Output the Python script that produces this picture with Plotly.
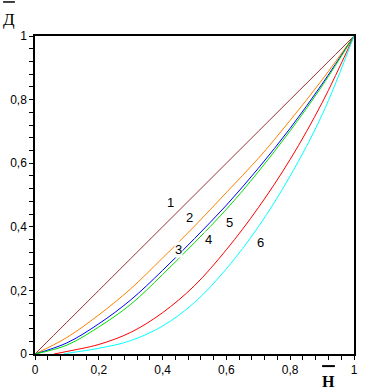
import plotly.graph_objects as go

x_grid = [0.0, 0.1, 0.2, 0.3, 0.4, 0.5, 0.6, 0.7, 0.8, 0.9, 1.0]
curve1 = [0.0, 0.1, 0.2, 0.3, 0.4, 0.5, 0.6, 0.7, 0.8, 0.9, 1.0]
curve2 = [0.0, 0.052, 0.123, 0.205, 0.302, 0.402, 0.508, 0.615, 0.735, 0.862, 1.0]
curve3 = [0.0, 0.035, 0.095, 0.17, 0.263, 0.363, 0.468, 0.584, 0.71, 0.849, 1.0]
curve4 = [0.0, 0.028, 0.085, 0.156, 0.25, 0.35, 0.455, 0.573, 0.702, 0.843, 1.0]
x5 = [0.06, 0.1, 0.2, 0.3, 0.4, 0.5, 0.6, 0.7, 0.8, 0.9, 1.0]
curve5 = [0.0, 0.008, 0.03, 0.068, 0.13, 0.215, 0.328, 0.46, 0.612, 0.79, 1.0]
x6 = [0.09, 0.1, 0.2, 0.3, 0.4, 0.5, 0.6, 0.7, 0.8, 0.9, 1.0]
curve6 = [0.0, 0.002, 0.018, 0.042, 0.088, 0.162, 0.268, 0.40, 0.56, 0.752, 1.0]

labels = ["1", "2", "3", "4", "5", "6"]
label_x = [0.425, 0.483, 0.451, 0.543, 0.609, 0.708]
label_y = [0.476, 0.430, 0.330, 0.361, 0.413, 0.352]

tick_vals = [0, 0.2, 0.4, 0.6, 0.8, 1]
tick_text = ["0", "0,2", "0,4", "0,6", "0,8", "1"]

colors = ["#993333", "#ff8000", "#0000ff", "#00e000", "#ff0000", "#00ffff"]

series = [(x_grid, curve1), (x_grid, curve2), (x_grid, curve3), (x_grid, curve4), (x5, curve5), (x6, curve6)]

fig = go.Figure()
for (xs, ys), c in zip(series, colors):
    fig.add_trace(go.Scatter(x=xs, y=ys, mode="lines", line=dict(color=c, width=1, shape="spline", smoothing=1.0),
                             showlegend=False, hoverinfo="skip"))

for t, lx, ly in zip(labels, label_x, label_y):
    fig.add_annotation(x=lx, y=ly, text=t, showarrow=False, xref="x", yref="y",
                       font=dict(family="Liberation Sans", size=13, color="black"),
                       bgcolor="white", borderpad=0)

axis_common = dict(range=[0, 1], tickvals=tick_vals, ticktext=tick_text, ticks="outside", ticklen=4,
                   tickwidth=1, tickcolor="black", showline=True, linecolor="black", linewidth=1.5,
                   mirror=True, showgrid=False, zeroline=False, automargin=False,
                   tickfont=dict(family="Liberation Sans", size=12, color="black"),
                   minor=dict(dtick=0.04, tick0=0, ticks="outside", ticklen=4, tickcolor="black", tickwidth=1, showgrid=False))

fig.update_layout(
    template="none",
    width=390, height=390,
    margin=dict(l=35, r=36, t=36, b=36),
    plot_bgcolor="white", paper_bgcolor="white",
    xaxis=axis_common, yaxis=axis_common,
)

fig.add_annotation(x=-0.083, y=1.053, xref="paper", yref="paper", text="Д", showarrow=False,
                   xanchor="center", yanchor="middle",
                   font=dict(family="Liberation Serif", size=17, color="black"))
fig.add_annotation(x=0.920, y=-0.085, xref="paper", yref="paper", text="<b>Н</b>", showarrow=False,
                   xanchor="center", yanchor="middle",
                   font=dict(family="Liberation Serif", size=16, color="black"))
fig.add_shape(type="line", xref="paper", yref="paper", x0=-0.100, x1=-0.063, y0=1.107, y1=1.107,
              line=dict(color="black", width=1.5))
fig.add_shape(type="line", xref="paper", yref="paper", x0=0.900, x1=0.940, y0=-0.038, y1=-0.038,
              line=dict(color="black", width=2))

fig.write_html("out.html", config={"displayModeBar": False},
               post_script="document.body.style.margin='0';document.body.style.padding='0';")
